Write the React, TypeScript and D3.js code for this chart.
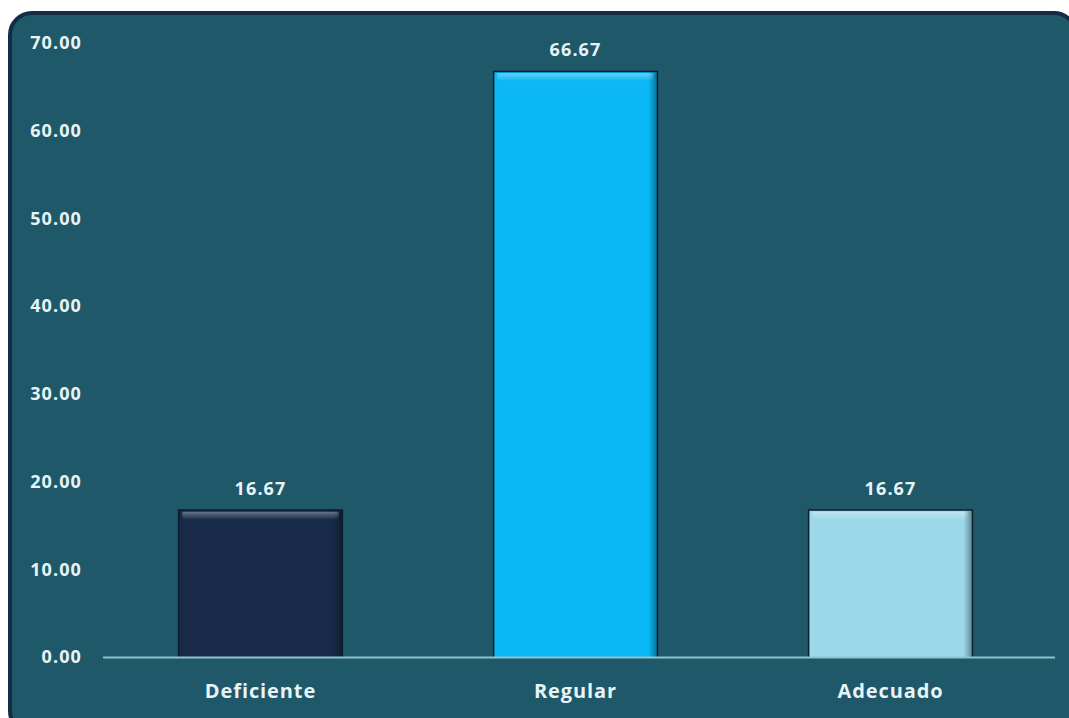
import React from "react";
import * as d3 from "d3";

const categories = ["Deficiente", "Regular", "Adecuado"];
const values = [16.67, 66.67, 16.67];
const barColors = ["#172B48", "#0BB7F4", "#9CD8EA"];
const yTicks = [0, 10, 20, 30, 40, 50, 60, 70];

const W = 1069;
const H = 718;

export default function App() {
  const x = d3.scaleBand<string>().domain(categories).range([103, 1048]).paddingInner(0.485).paddingOuter(0.2425);
  const y = d3.scaleLinear().domain([0, 70]).range([657, 43]);
  const font = "'Open Sans', Lato, sans-serif";
  const txt = "#E6F4F8";
  return (
    <svg width={W} height={H} style={{ position: "absolute", left: 0, top: 0 }}>
      <defs>
        {barColors.map((c, i) => (
          <linearGradient key={i} id={`hl${i}`} x1="0" y1="0" x2="0" y2="1">
            <stop offset="0" stopColor="#ffffff" stopOpacity={0.35} />
            <stop offset="1" stopColor="#ffffff" stopOpacity={0} />
          </linearGradient>
        ))}
        <linearGradient id="sideR" x1="0" y1="0" x2="1" y2="0">
          <stop offset="0" stopColor="#000" stopOpacity={0} />
          <stop offset="1" stopColor="#000" stopOpacity={0.35} />
        </linearGradient>
      </defs>
      <rect x={0} y={0} width={W} height={H} fill="#ffffff" />
      <rect x={10} y={13} width={1066} height={720} rx={22} fill="#1F5868" stroke="#142C45" strokeWidth={4} />
      {yTicks.map((t) => (
        <text key={t} x={82} y={y(t)} dy="0.35em" textAnchor="end" fill={txt} fontFamily={font} fontWeight={700} fontSize={18} letterSpacing={1.1}>
          {t.toFixed(2)}
        </text>
      ))}
      {categories.map((c, i) => {
        const bx = x(c)!;
        const bw = x.bandwidth();
        const by = y(values[i]);
        const bh = y(0) - by;
        return (
          <g key={c}>
            <rect x={bx - 1.5} y={by - 1.5} width={bw + 3} height={bh + 1.5} fill="#0B1C2E" />
            <rect x={bx} y={by} width={bw} height={bh} fill={barColors[i]} />
            <rect x={bx + 3} y={by + 1} width={bw - 6} height={8} fill={`url(#hl${i})`} />
            <rect x={bx + bw - 8} y={by} width={8} height={bh} fill="url(#sideR)" />
            <text x={bx + bw / 2} y={by - 16} textAnchor="middle" fill={txt} fontFamily={font} fontWeight={700} fontSize={18} letterSpacing={1.1}>
              {values[i].toFixed(2)}
            </text>
            <text x={bx + bw / 2} y={691} dy="0.35em" textAnchor="middle" fill={txt} fontFamily={font} fontWeight={700} fontSize={20} letterSpacing={0.9}>
              {c}
            </text>
          </g>
        );
      })}
      <line x1={103} x2={1055} y1={y(0) + 0.5} y2={y(0) + 0.5} stroke="#8FC3CF" strokeWidth={2} />
    </svg>
  );
}
